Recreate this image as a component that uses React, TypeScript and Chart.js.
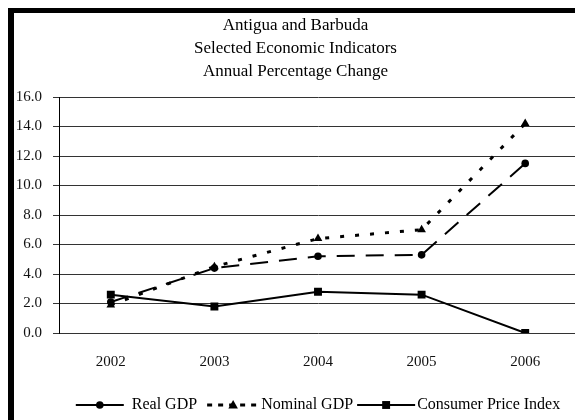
import React, { useEffect, useRef } from "react";
import { Chart, registerables } from "chart.js";

Chart.register(...registerables);

const titleLines = ["Antigua and Barbuda", "Selected Economic Indicators", "Annual Percentage Change"];
const categories = ["2002", "2003", "2004", "2005", "2006"];
const realGDP = [2.1, 4.4, 5.2, 5.3, 11.5];
const nominalGDP = [1.9, 4.5, 6.4, 7.0, 14.2];
const consumerPriceIndex = [2.6, 1.8, 2.8, 2.6, 0.0];
const seriesNames = ["Real GDP", "Nominal GDP", "Consumer Price Index"];
const yMin = 0;
const yMax = 16;
const yStep = 2;

const FONT = '"Liberation Serif", "Times New Roman", serif';

function drawMarker(ctx: CanvasRenderingContext2D, style: string, x: number, y: number, r: number) {
  ctx.beginPath();
  if (style === "circle") {
    ctx.arc(x, y, r, 0, Math.PI * 2);
  } else if (style === "triangle") {
    ctx.moveTo(x, y - r);
    ctx.lineTo(x + r * 0.95, y + r * 0.7);
    ctx.lineTo(x - r * 0.95, y + r * 0.7);
    ctx.closePath();
  } else {
    const s = r * Math.SQRT1_2;
    ctx.rect(x - s, y - s, 2 * s, 2 * s);
  }
  ctx.fill();
}

const sampleWidths = [48, 52, 58];
const textGaps = [8, 2, 2];
const itemGaps = [10, 4];

const frameAndLegend = {
  id: "frameAndLegend",
  afterDatasetsDraw(chart: any) {
    const { ctx, chartArea } = chart;
    ctx.save();
    ctx.strokeStyle = "#000";
    ctx.lineWidth = 1;
    const xr = Math.round(chartArea.right) + 0.5;
    ctx.beginPath();
    ctx.moveTo(xr, Math.round(chartArea.top));
    ctx.lineTo(xr, Math.round(chartArea.bottom) + 1);
    ctx.stroke();
    ctx.restore();
  },
  afterDraw(chart: any) {
    const { ctx, chartArea } = chart;
    ctx.save();
    ctx.font = `16px ${FONT}`;
    const widths = chart.data.datasets.map((d: any) => ctx.measureText(d.label).width);
    let total = 0;
    widths.forEach((w: number, i: number) => {
      total += sampleWidths[i] + textGaps[i] + w + (i < itemGaps.length ? itemGaps[i] : 0);
    });
    let x = (chartArea.left + chartArea.right) / 2 - total / 2;
    const y = chart.height - 15;
    chart.data.datasets.forEach((d: any, i: number) => {
      const sw = sampleWidths[i];
      ctx.strokeStyle = "#000";
      ctx.fillStyle = "#000";
      ctx.lineWidth = d.borderWidth;
      ctx.setLineDash(i === 1 ? [5, 6] : []);
      ctx.beginPath();
      ctx.moveTo(x, y);
      ctx.lineTo(x + sw, y);
      ctx.stroke();
      ctx.setLineDash([]);
      drawMarker(ctx, d.pointStyle, x + sw / 2, y, d.pointRadius);
      ctx.textBaseline = "middle";
      ctx.textAlign = "left";
      ctx.fillText(d.label, x + sw + textGaps[i], y);
      x += sw + textGaps[i] + widths[i] + (i < itemGaps.length ? itemGaps[i] : 0);
    });
    ctx.restore();
  },
};

export default function App() {
  const ref = useRef<HTMLCanvasElement>(null);

  useEffect(() => {
    document.body.style.overflow = "hidden";
    const chart = new Chart(ref.current!, {
      type: "line",
      data: {
        labels: categories,
        datasets: [
          {
            label: seriesNames[0],
            data: realGDP,
            borderColor: "#000",
            backgroundColor: "#000",
            borderWidth: 2,
            borderDash: [18, 11],
            pointStyle: "circle",
            pointRadius: 3.8,
            pointBorderWidth: 0,
            tension: 0,
          },
          {
            label: seriesNames[1],
            data: nominalGDP,
            borderColor: "#000",
            backgroundColor: "#000",
            borderWidth: 3,
            borderDash: [4, 11],
            pointStyle: "triangle",
            pointRadius: 5,
            pointBorderWidth: 0,
            tension: 0,
          },
          {
            label: seriesNames[2],
            data: consumerPriceIndex,
            borderColor: "#000",
            backgroundColor: "#000",
            borderWidth: 2,
            pointStyle: "rect",
            pointRadius: 5.6,
            pointBorderWidth: 0,
            tension: 0,
          },
        ],
      },
      options: {
        animation: false,
        responsive: false,
        maintainAspectRatio: false,
        layout: { padding: { left: 0, right: 6, top: 0, bottom: 37 } },
        plugins: {
          legend: { display: false },
          tooltip: { enabled: false },
          title: {
            display: true,
            text: titleLines,
            color: "#000",
            font: { family: FONT, size: 17, weight: "normal", lineHeight: "23px" },
            padding: { top: 1, bottom: 14 },
          },
        },
        scales: {
          x: {
            offset: true,
            grid: { display: false },
            border: { display: false },
            ticks: { color: "#111", font: { family: FONT, size: 15 }, padding: 12, maxRotation: 0 },
          },
          y: {
            min: yMin,
            max: yMax,
            ticks: {
              stepSize: yStep,
              color: "#111",
              padding: 11,
              font: { family: FONT, size: 15 },
              callback: (v: any) => Number(v).toFixed(1),
            },
            grid: { color: "#333", lineWidth: 1, tickLength: 6, drawTicks: true },
            border: { display: true, color: "#000", width: 1 },
            afterFit: (s: any) => {
              s.width = 45;
            },
          },
        },
      },
      plugins: [frameAndLegend],
    });
    return () => chart.destroy();
  }, []);

  return (
    <div
      style={{
        borderLeft: "6px solid #000",
        borderTop: "5px solid #000",
        width: 569,
        height: 407,
        background: "#fff",
      }}
    >
      <canvas ref={ref} width={569} height={407} style={{ display: "block", width: 569, height: 407 }} />
    </div>
  );
}
